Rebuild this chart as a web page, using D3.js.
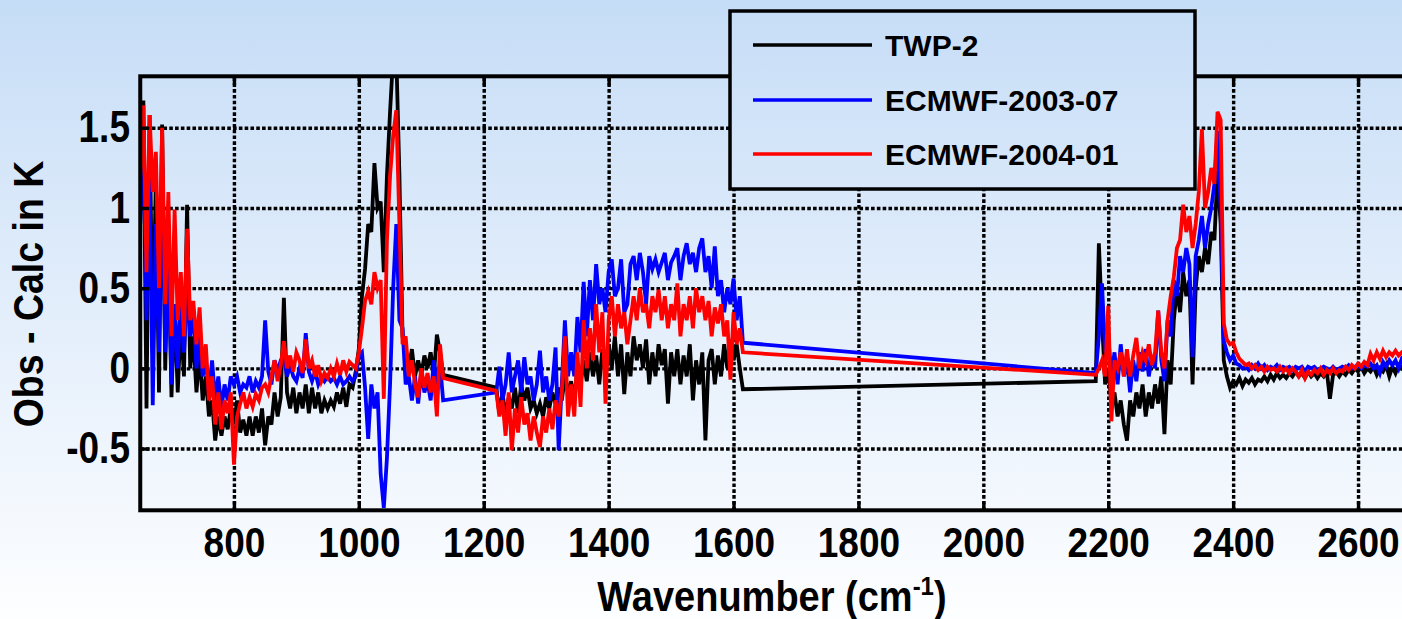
<!DOCTYPE html>
<html>
<head>
<meta charset="utf-8">
<script src="https://cdn.jsdelivr.net/npm/d3@7"></script>
<style>
  html, body { margin: 0; padding: 0; overflow: hidden; background: #fff; }
  svg text { font-family: "Liberation Sans", Arial, Helvetica, sans-serif; font-weight: bold; fill: #000; }
</style>
</head>
<body>
<svg id="chart" width="1402" height="619"></svg>
<script>
// Spectral sampling grids (cm^-1) for the three measured bands
const band1 = d3.range(650, 1136, 5);   // 650 .. 1135
const band2 = d3.range(1220, 1616, 5);  // 1220 .. 1615
const band3 = d3.range(2180, 2681, 5);  // 2180 .. 2680

// Obs - Calc (K), TWP-2
const twp2Band1 = [
  1.0, 1.67, -0.25, 1.58, 0.1, 1.2, -0.15, 1.52, 0.0, 0.85,
  -0.18, 0.4, -0.15, 0.3, -0.05, 1.02, 0.0, 0.2, -0.15, 0.1,
  -0.2, -0.05, -0.3, -0.2, -0.45, -0.3, -0.42, -0.3, -0.38, -0.25,
  -0.35, -0.2, -0.4, -0.32, -0.42, -0.3, -0.42, -0.3, -0.4, -0.25,
  -0.48, -0.3, -0.35, -0.15, -0.3, -0.18, 0.44, -0.15, -0.25, -0.12,
  -0.28, -0.15, -0.25, -0.1, -0.28, -0.12, -0.25, -0.15, -0.28, -0.2,
  -0.25, -0.2, -0.24, -0.15, -0.22, -0.12, -0.24, -0.1, -0.12, -0.02,
  0.12, 0.45, 0.62, 0.9, 0.85, 1.28, 1.0, 1.04, 0.6, 1.2,
  1.6, 1.95, 1.95, 1.2, 0.2, 0.1, 0.0, 0.12, -0.05, 0.05,
  -0.04, 0.08, 0.0, 0.1, -0.05, 0.21, 0.1, -0.04
];
const twp2Band2 = [
  -0.12, -0.28, -0.15, -0.3, -0.18, -0.25, -0.12, -0.28, -0.1, -0.2,
  -0.12, -0.25, -0.2, -0.28, -0.22, -0.3, -0.18, -0.25, -0.15, -0.22,
  -0.12, -0.2, -0.05, -0.15, -0.08, -0.2, 0.0, -0.1, 0.05, -0.08,
  0.1, -0.05, 0.08, -0.1, 0.12, -0.05, 0.15, 0.0, 0.2, -0.05,
  0.15, -0.16, 0.1, -0.05, 0.2, 0.05, 0.15, 0.0, 0.18, -0.1,
  0.1, -0.05, 0.15, 0.02, 0.12, -0.22, 0.1, -0.05, 0.12, -0.1,
  0.08, -0.05, 0.15, -0.2, 0.05, -0.1, 0.1, -0.45, 0.05, 0.12,
  -0.1, 0.08, -0.05, 0.15, 0.0, 0.18, 0.05, 0.15, 0.0, -0.13
];
const twp2Band3 = [
  -0.08, 0.78, 0.3, -0.1, 0.0, -0.22, -0.15, -0.3, -0.2, -0.35,
  -0.45, -0.2, -0.3, -0.15, -0.25, -0.1, -0.3, -0.15, -0.25, -0.1,
  -0.22, -0.05, -0.41, 0.05, -0.1, 0.3, 0.5, 0.35, 0.6, 0.45,
  0.55, -0.1, 0.5, 0.7, 0.6, 0.75, 0.65, 0.85, 0.8, 1.23,
  0.9, 0.05, -0.05, -0.12, -0.08, -0.1, -0.06, -0.11, -0.07, -0.09,
  -0.06, -0.1, -0.07, -0.08, -0.05, -0.08, -0.04, -0.07, -0.03, -0.06,
  -0.04, -0.06, -0.03, -0.05, -0.02, -0.05, -0.03, -0.06, -0.02, -0.05,
  -0.03, -0.06, -0.03, -0.05, -0.02, -0.19, -0.04, -0.02, -0.05, -0.02,
  -0.04, -0.01, -0.03, 0.0, -0.02, 0.01, -0.03, 0.0, -0.02, 0.01,
  -0.04, 0.0, -0.02, 0.02, -0.05, 0.01, -0.03, 0.02, 0.0, 0.03,
  0.01
];

// Obs - Calc (K), ECMWF-2003-07
const ecmwf0307Band1 = [
  0.9, 1.5, 0.3, 1.2, -0.23, 0.9, 0.1, 1.3, 0.1, 0.7,
  -0.1, 0.4, 0.0, 0.45, 0.1, 0.5, 0.2, 0.35, 0.0, 0.2,
  -0.05, 0.05, -0.15, 0.05, -0.2, -0.05, -0.25, -0.1, -0.2, -0.05,
  -0.1, -0.05, -0.15, -0.1, -0.12, -0.05, -0.15, -0.08, -0.12, -0.05,
  0.3, -0.02, -0.1, 0.05, -0.02, 0.05, 0.08, -0.05, 0.02, -0.05,
  -0.08, 0.0, -0.06, 0.22, -0.02, -0.08, -0.02, -0.1, -0.05, -0.08,
  -0.05, -0.08, -0.06, -0.1, -0.05, -0.1, -0.08, -0.05, -0.08, -0.05,
  0.08, 0.1, -0.12, -0.44, -0.1, -0.25, -0.15, -0.66, -0.87, -0.56,
  -0.1, 0.5, 0.9, 0.3, 0.25, -0.1, -0.05, -0.2, -0.05, -0.22,
  -0.02, -0.15, -0.08, -0.2, 0.05, -0.1, 0.03, -0.2
];
const ecmwf0307Band2 = [
  -0.15, 0.01, -0.2, -0.1, 0.1, -0.15, -0.05, 0.05, -0.15, 0.07,
  -0.1, -0.05, -0.2, -0.1, 0.11, -0.15, -0.05, -0.2, -0.1, 0.13,
  -0.51, -0.1, 0.3, -0.05, 0.1, -0.05, 0.32, 0.1, 0.54, 0.2,
  0.55, 0.3, 0.65, 0.4, 0.5, 0.35, 0.6, 0.68, 0.45, 0.5,
  0.68, 0.35, 0.4, 0.65, 0.7, 0.55, 0.72, 0.6, 0.4, 0.7,
  0.62, 0.68, 0.6, 0.66, 0.72, 0.55, 0.66, 0.7, 0.75, 0.55,
  0.7, 0.78, 0.65, 0.72, 0.6, 0.75, 0.81, 0.6, 0.7, 0.5,
  0.76, 0.45, 0.55, 0.35, 0.5, 0.4, 0.56, 0.3, 0.45, 0.16
];
const ecmwf0307Band3 = [
  -0.03, 0.2, 0.53, 0.1, 0.2, -0.05, 0.1, -0.1, 0.15, -0.05,
  0.05, -0.15, 0.05, -0.08, 0.1, -0.02, 0.12, -0.05, 0.08, 0.0,
  0.36, 0.05, -0.08, 0.3, 0.2, 0.55, 0.45, 0.7, 0.6, 0.75,
  0.65, 0.07, 0.7, 0.8, 0.95, 0.75, 0.9, 1.0, 1.15, 1.48,
  1.0, 0.17, 0.1, 0.05, 0.08, 0.03, 0.02, 0.0, 0.01, -0.01,
  0.02, 0.0, 0.03, 0.0, 0.02, -0.01, 0.01, 0.0, 0.02, -0.01,
  0.01, 0.0, 0.01, -0.01, 0.01, 0.0, 0.01, -0.02, 0.01, 0.0,
  0.01, -0.01, 0.0, 0.01, 0.0, -0.01, 0.01, -0.01, 0.0, 0.01,
  0.0, 0.02, 0.0, 0.01, 0.02, 0.0, 0.02, 0.01, 0.03, 0.0,
  0.02, -0.03, 0.04, 0.01, 0.05, 0.02, 0.05, 0.0, 0.06, 0.04,
  0.05
];

// Obs - Calc (K), ECMWF-2004-01
const ecmwf0401Band1 = [
  1.2, 1.64, 0.6, 1.58, 1.1, 1.35, 0.5, 1.5, 0.4, 1.1,
  0.2, 0.99, 0.3, 0.6, 0.2, 0.87, 0.3, 0.42, 0.15, 0.38,
  0.0, 0.15, -0.2, -0.05, -0.35, -0.15, -0.38, -0.2, -0.28, -0.15,
  -0.6, -0.3, -0.22, -0.15, -0.25, -0.18, -0.24, -0.16, -0.2, -0.12,
  -0.1, -0.15, -0.05, 0.05, -0.08, 0.02, 0.17, 0.0, 0.08, -0.02,
  0.1, 0.05, -0.03, 0.18, 0.0, 0.05, -0.05, 0.02, -0.08, -0.03,
  -0.06, 0.0, -0.05, 0.03, -0.04, 0.05, -0.02, 0.04, 0.02, 0.0,
  0.1, 0.25, 0.42, 0.48, 0.4, 0.6, 0.5, 0.55, -0.19, 0.8,
  1.2, 1.45, 1.61, 0.9, 0.15, 0.2, -0.05, 0.05, -0.1, -0.18,
  0.0, -0.12, -0.03, -0.15, -0.05, -0.3, 0.15, -0.06
];
const ecmwf0401Band2 = [
  -0.14, -0.3, -0.2, -0.42, -0.15, -0.51, -0.25, -0.4, -0.18, -0.35,
  -0.28, -0.45, -0.3, -0.4, -0.49, -0.3, -0.4, -0.25, -0.38, -0.2,
  -0.3, -0.15, 0.2, -0.3, -0.1, -0.3, 0.1, -0.24, 0.3, 0.0,
  0.25, 0.05, 0.4, 0.1, 0.35, -0.22, 0.3, 0.45, 0.2, 0.4,
  0.25, 0.35, 0.15, 0.3, 0.45, 0.3, 0.5, 0.35, 0.4, 0.25,
  0.45, 0.35, 0.49, 0.3, 0.45, 0.25, 0.4, 0.3, 0.53, 0.2,
  0.4, 0.3, 0.45, 0.25, 0.5, 0.35, 0.45, 0.3, 0.42, 0.2,
  0.38, 0.28, 0.4, 0.2, 0.3, -0.07, 0.35, 0.15, 0.25, 0.1
];
const ecmwf0401Band3 = [
  -0.04, 0.0, 0.05, -0.05, 0.39, -0.33, 0.05, 0.0, 0.1, -0.05,
  0.12, -0.05, 0.08, 0.19, 0.0, 0.1, 0.05, 0.15, 0.02, 0.1,
  0.36, 0.1, 0.0, 0.3, 0.45, 0.57, 0.75, 0.8, 1.02, 0.85,
  0.95, 0.75, 0.9, 1.1, 1.49, 1.0, 1.1, 1.25, 1.15, 1.6,
  1.55, 0.28, 0.18, 0.15, 0.16, 0.1, 0.06, 0.04, 0.02, 0.03,
  0.0, 0.02, -0.01, 0.01, -0.02, 0.01, -0.01, 0.0, -0.02, 0.01,
  -0.02, 0.0, -0.03, 0.0, -0.02, -0.05, -0.01, -0.06, -0.02, -0.04,
  -0.01, -0.03, 0.0, -0.04, -0.01, -0.03, 0.0, -0.03, -0.01, -0.02,
  0.01, -0.01, 0.02, 0.0, 0.03, 0.01, 0.04, 0.02, 0.09, 0.05,
  0.1, 0.06, 0.11, 0.07, 0.1, 0.08, 0.11, 0.08, 0.1, 0.09,
  0.1
];

const seriesNames = ["TWP-2", "ECMWF-2003-07", "ECMWF-2004-01"];
const seriesColors = ["#000000", "#0000ff", "#ff0000"];
const xTicks = [800, 1000, 1200, 1400, 1600, 1800, 2000, 2200, 2400, 2600];
const yTicks = [-0.5, 0, 0.5, 1, 1.5];

const wavenumbers = band1.concat(band2, band3);
const seriesValues = [
  twp2Band1.concat(twp2Band2, twp2Band3),
  ecmwf0307Band1.concat(ecmwf0307Band2, ecmwf0307Band3),
  ecmwf0401Band1.concat(ecmwf0401Band2, ecmwf0401Band3)
];

// ---- layout ----
const W = 1402, H = 619;
const plot = { left: 140.25, right: 1408, top: 76.3, bottom: 510.3 };

const svg = d3.select("#chart");
const defs = svg.append("defs");

const grad = defs.append("linearGradient")
  .attr("id", "bgGrad").attr("gradientUnits", "userSpaceOnUse")
  .attr("x1", 0).attr("y1", 0).attr("x2", 0).attr("y2", H);
grad.append("stop").attr("offset", 0).attr("stop-color", "#c6ddf7");
grad.append("stop").attr("offset", 0.5).attr("stop-color", "#e3eefb");
grad.append("stop").attr("offset", 1).attr("stop-color", "#fdfeff");

defs.append("clipPath").attr("id", "plotClip")
  .append("rect")
  .attr("x", plot.left).attr("y", plot.top)
  .attr("width", plot.right - plot.left).attr("height", plot.bottom - plot.top);

svg.append("rect").attr("width", W).attr("height", H).attr("fill", "url(#bgGrad)");

const x = d3.scaleLinear().domain([650, 2680]).range([plot.left, plot.right]);
const y = d3.scaleLinear().domain([-0.885, 1.821]).range([plot.bottom, plot.top]);

// ---- dotted grid ----
const gridStyle = g => {
  g.select(".domain").remove();
  g.selectAll(".tick line")
    .attr("stroke", "#000").attr("stroke-width", 3.4)
    .attr("stroke-dasharray", "3.6,2.2");
};
svg.append("g")
  .attr("transform", `translate(0,${plot.bottom})`)
  .call(d3.axisBottom(x).tickValues(xTicks).tickSize(-(plot.bottom - plot.top)).tickFormat(""))
  .call(gridStyle);
svg.append("g")
  .attr("transform", `translate(${plot.left},0)`)
  .call(d3.axisLeft(y).tickValues(yTicks).tickSize(-(plot.right - plot.left)).tickFormat(""))
  .call(gridStyle);

// ---- spectra ----
const line = d3.line()
  .x((d, i) => x(wavenumbers[i]))
  .y(d => y(d));

svg.append("g").attr("clip-path", "url(#plotClip)")
  .selectAll("path")
  .data(seriesValues)
  .join("path")
  .attr("d", d => line(d))
  .attr("fill", "none")
  .attr("stroke", (d, i) => seriesColors[i])
  .attr("stroke-width", 3.8)
  .attr("stroke-linejoin", "miter");

// ---- frame and inward ticks ----
svg.append("rect")
  .attr("x", plot.left).attr("y", plot.top)
  .attr("width", plot.right - plot.left).attr("height", plot.bottom - plot.top)
  .attr("fill", "none").attr("stroke", "#000").attr("stroke-width", 4);

const tickStyle = g => {
  g.select(".domain").remove();
  g.selectAll(".tick line").attr("stroke", "#000").attr("stroke-width", 3.4);
};

const xAxis = svg.append("g")
  .attr("transform", `translate(0,${plot.bottom})`)
  .call(d3.axisBottom(x).tickValues(xTicks).tickSizeInner(-9).tickSizeOuter(0).tickFormat(d3.format("d")))
  .call(tickStyle);
xAxis.selectAll(".tick text")
  .attr("y", 40.3).attr("dy", 0)
  .attr("transform", "scale(1,1.15)")
  .style("font-size", "37px");

svg.append("g")
  .attr("transform", `translate(0,${plot.top})`)
  .call(d3.axisTop(x).tickValues(xTicks).tickSizeInner(-9).tickSizeOuter(0).tickFormat(""))
  .call(tickStyle);

const yAxis = svg.append("g")
  .attr("transform", `translate(${plot.left},0)`)
  .call(d3.axisLeft(y).tickValues(yTicks).tickSizeInner(-9).tickSizeOuter(0).tickFormat(d => String(d)))
  .call(tickStyle);
yAxis.selectAll(".tick text")
  .attr("x", -10.3).attr("y", 11.9).attr("dy", 0)
  .attr("text-anchor", "end")
  .attr("transform", "scale(1,1.18)")
  .style("font-size", "37px");

// ---- axis titles ----
svg.append("g")
  .attr("transform", "translate(43,294) rotate(-90) scale(1,1.12)")
  .append("text")
  .attr("text-anchor", "middle")
  .style("font-size", "37.5px")
  .text("Obs - Calc in K");

const xTitle = svg.append("g")
  .attr("transform", "translate(772,611) scale(1,1.1)")
  .append("text")
  .attr("text-anchor", "middle")
  .style("font-size", "38px");
xTitle.append("tspan").text("Wavenumber (cm");
xTitle.append("tspan").attr("dy", -15).style("font-size", "24px").text("-1");
xTitle.append("tspan").attr("dy", 15).text(")");

// ---- legend ----
const legend = svg.append("g");
legend.append("rect")
  .attr("x", 730).attr("y", 11).attr("width", 465).attr("height", 178)
  .attr("fill", "url(#bgGrad)").attr("stroke", "#000").attr("stroke-width", 3.5);

const rowY = [45, 100, 154];
const items = legend.selectAll("g.item")
  .data(seriesNames)
  .join("g").attr("class", "item")
  .attr("transform", (d, i) => `translate(0,${rowY[i]})`);
items.append("line")
  .attr("x1", 753).attr("x2", 872).attr("y1", 0).attr("y2", 0)
  .attr("stroke", (d, i) => seriesColors[i]).attr("stroke-width", 3.5);
items.append("text")
  .attr("x", 885).attr("y", 11)
  .style("font-size", "30px")
  .text(d => d);
</script>
</body>
</html>
